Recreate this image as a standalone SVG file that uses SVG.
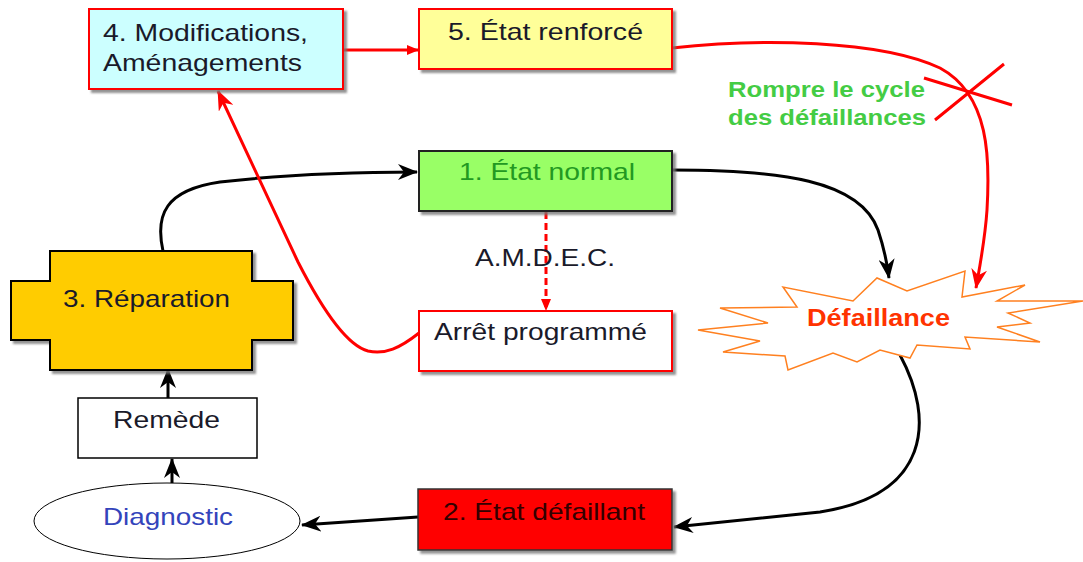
<svg xmlns="http://www.w3.org/2000/svg" width="1083" height="562" viewBox="0 0 1083 562">
<style>
text{font-family:"Liberation Sans",Arial,sans-serif;font-size:24px;fill:#1a1a2a}
.b{font-weight:bold}
.k{fill:none;stroke:#000;stroke-width:3}
.r{fill:none;stroke:#ff0000;stroke-width:3}
</style>
<defs>
<filter id="sh" x="-10%" y="-10%" width="130%" height="140%"><feDropShadow dx="3" dy="3" stdDeviation="1" flood-color="#777" flood-opacity="0.8"/></filter>
<marker id="ak" viewBox="0 0 20 16" refX="19" refY="8" markerWidth="20" markerHeight="16" orient="auto" markerUnits="userSpaceOnUse"><path d="M0,0 L20,8 L0,16 L6,8 z" fill="#000"/></marker>
<marker id="ar" viewBox="0 0 20 16" refX="19" refY="8" markerWidth="20" markerHeight="16" orient="auto" markerUnits="userSpaceOnUse"><path d="M0,0 L20,8 L0,16 L6,8 z" fill="#ff0000"/></marker>
<marker id="ars" viewBox="0 0 12 10" refX="11" refY="5" markerWidth="12" markerHeight="10" orient="auto" markerUnits="userSpaceOnUse"><path d="M0,0 L12,5 L0,10 z" fill="#ff0000"/></marker>
</defs>
<g id="connectors">
<path class="k" d="M163,251 C155,215 165,190 220,182 C290,174 360,172 417,172" marker-end="url(#ak)"/>
<path class="k" d="M672,170 C780,170 860,180 878,230 C884,248 887,262 889,278" marker-end="url(#ak)"/>
<path class="k" d="M900,355 C935,420 930,495 820,512 L674,527" marker-end="url(#ak)"/>
<path class="k" d="M418,517 L302,525" marker-end="url(#ak)"/>
<path class="k" d="M172,483 L172,459" marker-end="url(#ak)"/>
<path class="k" d="M168,398 L168,369" marker-end="url(#ak)"/>
<path class="r" d="M546,212 L546,310" stroke-dasharray="7,4" marker-end="url(#ars)"/>
<path class="r" d="M419,333 C400,348 385,355 368,351 C345,345 320,305 298,262 L218,91" marker-end="url(#ar)"/>
<path class="r" d="M343,50 L418,50" marker-end="url(#ars)"/>
<path class="r" d="M672,48 C760,38 880,40 940,68 C990,95 990,160 987,210 C985,240 980,265 976,288" marker-end="url(#ar)"/>
<path class="r" d="M924,78 L1012,105 M935,120 L1004,64"/>
</g>
<g id="n4">
<rect x="89" y="9" width="254" height="80" fill="#ccffff" stroke="#ff0000" stroke-width="2" filter="url(#sh)"/>
<text x="103" y="41" textLength="205" lengthAdjust="spacingAndGlyphs">4. Modifications,</text>
<text x="103" y="71" textLength="199" lengthAdjust="spacingAndGlyphs">Aménagements</text>
</g>
<g id="n5">
<rect x="419" y="9" width="253" height="60" fill="#ffff99" stroke="#ff0000" stroke-width="2" filter="url(#sh)"/>
<text x="448" y="40" textLength="195" lengthAdjust="spacingAndGlyphs">5. État renforcé</text>
</g>
<g id="n1">
<rect x="419" y="151" width="253" height="60" fill="#99ff66" stroke="#222" stroke-width="2" filter="url(#sh)"/>
<text x="459" y="180" textLength="176" lengthAdjust="spacingAndGlyphs" style="fill:#229922">1. État normal</text>
</g>
<g id="amdec">
<text x="475" y="266" textLength="140" lengthAdjust="spacingAndGlyphs">A.M.D.E.C.</text>
</g>
<g id="arret">
<rect x="419" y="311" width="253" height="60" fill="#fff" stroke="#ff0000" stroke-width="2" filter="url(#sh)"/>
<text x="434" y="340" textLength="213" lengthAdjust="spacingAndGlyphs">Arrêt programmé</text>
</g>
<g id="rompre">
<text class="b" x="728" y="97" textLength="197" lengthAdjust="spacingAndGlyphs" style="fill:#44cc44;font-size:22px">Rompre le cycle</text>
<text class="b" x="728" y="125" textLength="198" lengthAdjust="spacingAndGlyphs" style="fill:#44cc44;font-size:22px">des défaillances</text>
</g>
<g id="defaillance">
<polygon points="698,330 768,323 720,308 797,307 783,287 853,301 877,278 907,291 965,271 962,297 1025,285 997,301 1083,301 1008,313 1030,323 997,327 1040,342 965,337 970,349 917,345 910,358 880,350 857,362 833,353 788,370 785,356 723,352 760,341" fill="#fff" stroke="#ff8020" stroke-width="1.5"/>
<text class="b" x="807" y="326" textLength="143" lengthAdjust="spacingAndGlyphs" style="fill:#ff3300">Défaillance</text>
</g>
<g id="n2">
<rect x="418" y="489" width="254" height="61" fill="#ff0000" stroke="#333" stroke-width="1.5" filter="url(#sh)"/>
<text x="443" y="520" textLength="202" lengthAdjust="spacingAndGlyphs" style="fill:#330000">2. État défaillant</text>
</g>
<g id="diagnostic">
<ellipse cx="167" cy="521" rx="133" ry="38" fill="#fff" stroke="#000" stroke-width="1"/>
<text x="103" y="525" textLength="130" lengthAdjust="spacingAndGlyphs" style="fill:#3344bb">Diagnostic</text>
</g>
<g id="remede">
<rect x="78" y="398" width="179" height="60" fill="#fff" stroke="#000" stroke-width="1.5"/>
<text x="113" y="428" textLength="107" lengthAdjust="spacingAndGlyphs">Remède</text>
</g>
<g id="n3">
<polygon points="50,251 252,251 252,281 293,281 293,340 252,340 252,370 50,370 50,340 11,340 11,281 50,281" fill="#ffcc00" stroke="#000" stroke-width="2" filter="url(#sh)"/>
<text x="63" y="307" textLength="167" lengthAdjust="spacingAndGlyphs">3. Réparation</text>
</g>
</svg>
